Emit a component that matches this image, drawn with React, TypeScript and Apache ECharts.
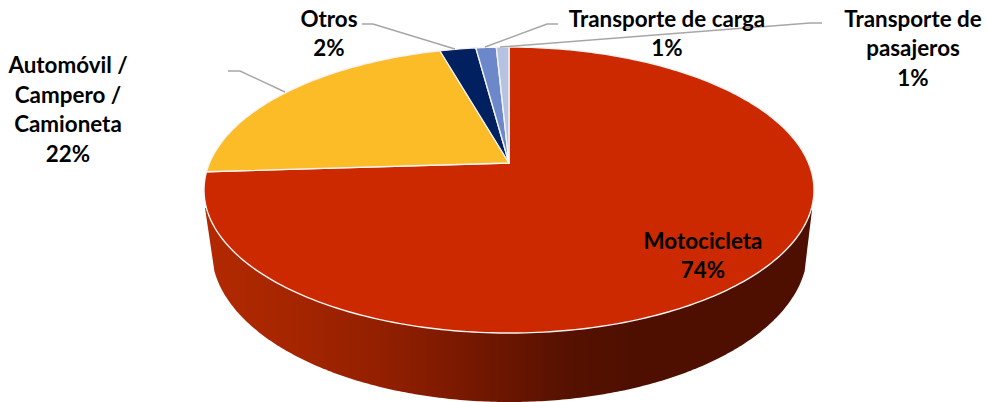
import React, { useEffect, useRef } from "react";
import * as echarts from "echarts";

const categories = [
  "Motocicleta",
  "Automóvil /\nCampero /\nCamioneta",
  "Otros",
  "Transporte de carga",
  "Transporte de\npasajeros",
];
const values = [74.0, 21.6, 2.3, 1.3, 0.8];
const colors = ["#CC2900", "#FBBC28", "#002060", "#6C88CA", "#B5C2E1"];

const total = values.reduce((a, b) => a + b, 0);

// Perspective projection of the pie disc
const APEX = { x: 509, y: 163 };
const K = 0.189;
const A = 299.5;
const B = 137.9;
const project = (fraction: number): number[] => {
  const t = fraction * Math.PI * 2;
  const u = Math.sin(t);
  const v = Math.cos(t);
  const w = 1 + K * v;
  return [APEX.x + (A * u) / w, APEX.y - (B * v) / w];
};

// Lower rim of the pie's side wall
const LOW = { cx: 509.5, cy: 250, rx: 298, ry: 152, a0: (8 * Math.PI) / 180 };
const WALL_TOP_R = [812, 210];
const WALL_TOP_L = [205, 208];

const labelLayout = [
  { x: 703, y: 255, line: null },
  { x: 68, y: 109, line: [[228, 71], [240, 71], [285, 92]] },
  { x: 329, y: 33, line: [[362, 24], [373, 24], [455, 49]] },
  { x: 667, y: 33, line: [[558, 24], [547, 24], [485, 47]] },
  { x: 913, y: 47.5, line: [[822, 23], [810, 23], [500, 47]] },
];

export default function App() {
  const ref = useRef<HTMLDivElement>(null);
  useEffect(() => {
    const chart = echarts.init(ref.current!, undefined, { renderer: "svg" });
    const texts = categories.map((c, i) => ({
      type: "text",
      z: 100,
      x: labelLayout[i].x,
      y: labelLayout[i].y,
      style: {
        text: `${c}\n${Math.round((values[i] / total) * 100)}%`,
        fill: "#000",
        font: "bold 22.4px Lato",
        lineHeight: 29.5,
        textAlign: "center",
        textVerticalAlign: "middle",
      },
    }));
    const lines = labelLayout
      .filter((l) => l.line)
      .map((l) => ({
        type: "polyline",
        z: 50,
        shape: { points: l.line },
        style: { stroke: "#A6A6A6", lineWidth: 1.5, fill: "none" },
      }));
    chart.setOption({
      animation: false,
      backgroundColor: "#fff",
      series: [
        {
          type: "custom",
          coordinateSystem: "none",
          silent: true,
          z: 1,
          data: [[1]],
          renderItem: () => {
            const points: number[][] = [WALL_TOP_L];
            for (let i = 0; i <= 240; i++) {
              const a = LOW.a0 + ((Math.PI - 2 * LOW.a0) * (240 - i)) / 240;
              points.push([LOW.cx + LOW.rx * Math.cos(a), LOW.cy + LOW.ry * Math.sin(a)]);
            }
            points.push(WALL_TOP_R);
            return {
              type: "polygon",
              shape: { points },
              style: {
                fill: new echarts.graphic.LinearGradient(0, 0, 1, 0, [
                  { offset: 0, color: "#B32900" },
                  { offset: 0.16, color: "#A32500" },
                  { offset: 0.32, color: "#8E1E00" },
                  { offset: 0.5, color: "#691500" },
                  { offset: 0.6, color: "#561100" },
                  { offset: 0.7, color: "#4F0F00" },
                  { offset: 1, color: "#4F0F00" },
                ]),
              },
            };
          },
        },
        {
          type: "custom",
          coordinateSystem: "none",
          silent: true,
          z: 2,
          data: values.map((v) => [v]),
          renderItem: (params: any, api: any) => {
            const i = params.dataIndex;
            const v = api.value(0);
            const before = values.slice(0, i).reduce((a, b) => a + b, 0);
            const n = Math.max(8, Math.ceil((v / total) * 360));
            const points: number[][] = [[APEX.x, APEX.y]];
            for (let s = 0; s <= n; s++) {
              points.push(project((before + (v * s) / n) / total));
            }
            return {
              type: "polygon",
              shape: { points },
              style: { fill: colors[i], stroke: "#F4F4F4", lineWidth: 1.4, lineJoin: "round" },
            };
          },
        },
      ],
      graphic: { elements: [...lines, ...texts] },
    });
    return () => chart.dispose();
  }, []);
  return (
    <div
      ref={ref}
      style={{ position: "absolute", left: 0, top: 0, width: 987, height: 402 }}
    />
  );
}
